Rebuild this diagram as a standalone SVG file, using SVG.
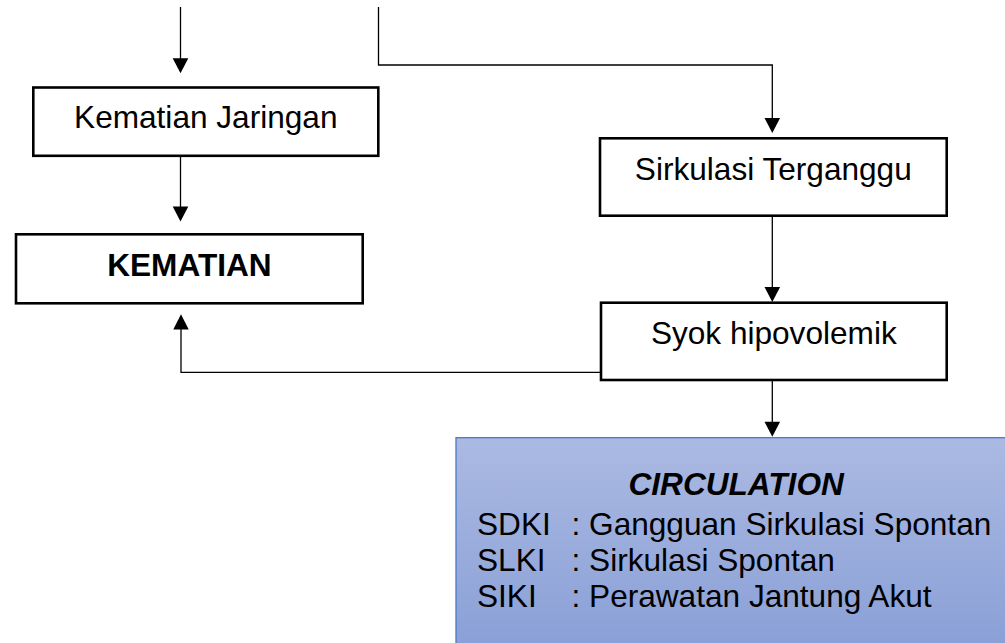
<svg xmlns="http://www.w3.org/2000/svg" width="1005" height="643" viewBox="0 0 1005 643">
  <style>
    .box { fill: #ffffff; stroke: #000000; stroke-width: 2.6; }
    .lbl { font-family: "Liberation Sans", Arial, sans-serif; font-size: 31.6px; fill: #000000; }
    .ctr { text-anchor: middle; }
    .bold { font-weight: bold; }
    .conn { fill: none; stroke: #000000; stroke-width: 1.3; }
    .head { fill: #000000; }
  </style>
  <defs>
    <linearGradient id="blueFill" x1="0" y1="0" x2="0" y2="1">
      <stop offset="0" stop-color="#abbae2"/>
      <stop offset="1" stop-color="#889ed6"/>
    </linearGradient>
  </defs>

  <!-- connectors -->
  <g id="connectors">
    <!-- top left into Kematian Jaringan -->
    <path class="conn" d="M180.5 7 V60"/>
    <polygon class="head" points="172.7,58.3 188.3,58.3 180.5,73.3"/>
    <!-- Kematian Jaringan to KEMATIAN -->
    <path class="conn" d="M180.5 156 V208"/>
    <polygon class="head" points="172.7,206.5 188.3,206.5 180.5,221.5"/>
    <!-- top right, elbow into Sirkulasi Terganggu -->
    <path class="conn" d="M378.5 7 V65 H772.3 V120"/>
    <polygon class="head" points="764.5,118 780.1,118 772.3,133"/>
    <!-- Sirkulasi Terganggu to Syok hipovolemik -->
    <path class="conn" d="M772.3 216 V289"/>
    <polygon class="head" points="764.5,287 780.1,287 772.3,302"/>
    <!-- Syok hipovolemik back to KEMATIAN -->
    <path class="conn" d="M601 372.3 H181 V328"/>
    <polygon class="head" points="173.3,329.5 188.7,329.5 181,314.3"/>
    <!-- Syok hipovolemik to CIRCULATION -->
    <path class="conn" d="M772.3 381 V423"/>
    <polygon class="head" points="764.5,421.7 780.1,421.7 772.3,436.8"/>
  </g>

  <g id="kematian-jaringan">
    <rect class="box" x="33.3" y="87.5" width="345" height="68.3"/>
    <text class="lbl ctr" x="205.8" y="128.3">Kematian Jaringan</text>
  </g>

  <g id="kematian">
    <rect class="box" x="16" y="234.3" width="346.7" height="69"/>
    <text class="lbl ctr bold" x="189.4" y="276">KEMATIAN</text>
  </g>

  <g id="sirkulasi-terganggu">
    <rect class="box" x="600" y="138.3" width="346.7" height="77.4"/>
    <text class="lbl ctr" x="773.3" y="180">Sirkulasi Terganggu</text>
  </g>

  <g id="syok-hipovolemik">
    <rect class="box" x="601" y="302.7" width="345.7" height="77.3"/>
    <text class="lbl ctr" x="773.8" y="344">Syok hipovolemik</text>
  </g>

  <g id="circulation">
    <rect x="456" y="437.7" width="560" height="220" fill="url(#blueFill)" stroke="#4a78c8" stroke-width="1.3"/>
    <text class="lbl bold" font-style="italic" x="628.5" y="495">CIRCULATION</text>
    <text class="lbl" x="477" y="535">SDKI</text>
    <text class="lbl" x="571.5" y="535">: Gangguan Sirkulasi Spontan</text>
    <text class="lbl" x="477" y="571">SLKI</text>
    <text class="lbl" x="571.5" y="571">: Sirkulasi Spontan</text>
    <text class="lbl" x="477" y="607">SIKI</text>
    <text class="lbl" x="571.5" y="607">: Perawatan Jantung Akut</text>
  </g>
</svg>
